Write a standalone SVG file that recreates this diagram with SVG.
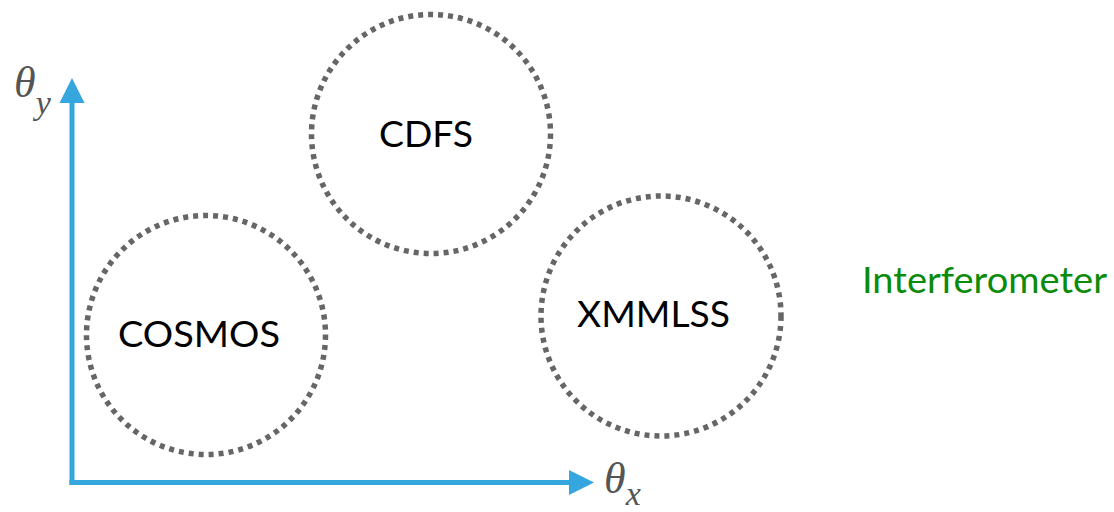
<svg xmlns="http://www.w3.org/2000/svg" width="1114" height="512" viewBox="0 0 1114 512">
<style>
.field{fill:none;stroke:#666;stroke-width:5.5;stroke-dasharray:5 5}
.lbl{font-family:Lato,"Open Sans",sans-serif;font-size:36px;fill:#000;text-anchor:middle}
.ax{stroke:#36a7de;stroke-width:5;fill:none}
.th{font-family:"Liberation Serif",serif;font-style:italic;fill:#555}
</style>
<rect width="1114" height="512" fill="#fff"/>
<g id="connectors">
<line class="ax" x1="72" y1="485" x2="72" y2="100"/>
<line class="ax" x1="69.5" y1="482.5" x2="572" y2="482.5"/>
<polygon points="72,78 84.5,103 59.5,103" fill="#36a7de"/>
<polygon points="594,482.5 569,470 569,495" fill="#36a7de"/>
</g>
<g id="axis-y"><text class="th" x="14" y="97" font-size="44">θ<tspan font-size="34" dy="17">y</tspan></text></g>
<g id="axis-x"><text class="th" x="604" y="493" font-size="44">θ<tspan font-size="34" dy="12">x</tspan></text></g>
<g id="CDFS"><circle class="field" cx="431" cy="134" r="119.5"/><text class="lbl" x="426" y="147" textLength="94" lengthAdjust="spacingAndGlyphs">CDFS</text></g>
<g id="COSMOS"><circle class="field" cx="206" cy="335" r="119.5"/><text class="lbl" x="199" y="347" textLength="162" lengthAdjust="spacingAndGlyphs">COSMOS</text></g>
<g id="XMMLSS"><circle class="field" cx="661" cy="316" r="120"/><text class="lbl" x="653.5" y="327" textLength="153" lengthAdjust="spacingAndGlyphs">XMMLSS</text></g>
<g id="Interferometer"><text x="862" y="293" font-family="Lato,sans-serif" font-size="36" fill="#0a8c0a" textLength="245" lengthAdjust="spacingAndGlyphs">Interferometer</text></g>
</svg>
